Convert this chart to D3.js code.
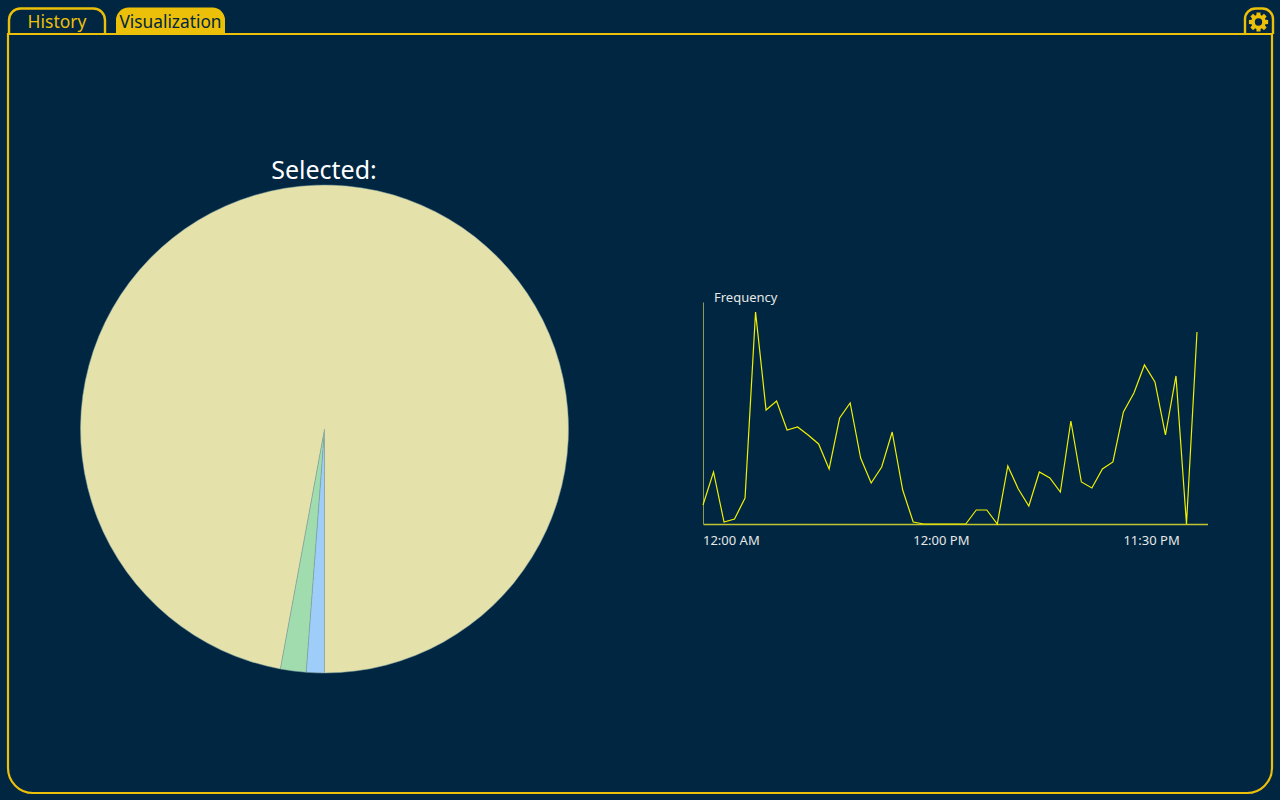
<!DOCTYPE html>
<html>
<head>
<meta charset="utf-8">
<script src="https://cdn.jsdelivr.net/npm/d3@7"></script>
<style>
html, body { margin: 0; padding: 0; background: #002642; overflow: hidden; }
svg { display: block; }
text { font-family: "Noto Sans", sans-serif; }
</style>
</head>
<body>
<svg id="main" width="1280" height="800"></svg>
<script>
var tab_names = ["History", "Visualization"]
var pie_title = "Selected:"
var pie_values = [1.2, 1.7, 97.1]
var pie_colors = ["#9fcdf9", "#a0dcae", "#e5e1ab"]
var freq_label = "Frequency"
var freq_values = [19, 52, 2, 5, 26, 212, 114, 123, 94, 97, 89, 80, 55, 106, 121, 66, 41, 57, 92, 34, 2, 0,
	0, 0, 0, 0, 14, 14, 0, 58, 35, 18, 52, 46, 32, 103, 42, 36, 55, 62, 112, 131, 159, 142, 89, 148, 0, 192]
var tick_index = [0, 20, 40]
var tick_labels = ["12:00 AM", "12:00 PM", "11:30 PM"]

var gold = "#ecc008", bg = "#002642"
var svg = d3.select("#main")

// window frame
svg.append("path")
	.attr("d", "M8,34 H1272 V768 A25,25 0 0 1 1247,793 H33 A25,25 0 0 1 8,768 Z")
	.style("fill", "none").style("stroke", gold).style("stroke-width", 2.2)

// tabs
svg.append("path")
	.attr("d", "M9,34 V20 A11.5,11.5 0 0 1 20.5,8.5 H93.5 A11.5,11.5 0 0 1 105,20 V34")
	.style("fill", "none").style("stroke", gold).style("stroke-width", 2.4)
svg.append("path")
	.attr("d", "M116,34 V20 A12.5,12.5 0 0 1 128.5,7.5 H212.5 A12.5,12.5 0 0 1 225,20 V34 Z")
	.style("fill", gold)
svg.append("text").text(tab_names[0])
	.attr("x", 57).attr("y", 28).attr("text-anchor", "middle")
	.style("font-size", "17.5px").style("fill", gold)
svg.append("text").text(tab_names[1])
	.attr("x", 170.5).attr("y", 28).attr("text-anchor", "middle")
	.style("font-size", "17.3px").style("fill", bg)

// settings tab
svg.append("path")
	.attr("d", "M1245,34 V19 A10.5,10.5 0 0 1 1255.5,8.5 H1262.5 A10.5,10.5 0 0 1 1273,19 V34")
	.style("fill", "none").style("stroke", gold).style("stroke-width", 2.4)
var gear_pts = []
for (var t = 0; t < 8; t++) {
	var a = t * Math.PI / 4
	gear_pts.push([a - 0.2, 9.8], [a + 0.2, 9.8], [a + 0.3, 7.2], [a + Math.PI / 4 - 0.3, 7.2])
}
var gear_d = d3.lineRadial().curve(d3.curveLinearClosed)(gear_pts)
	+ "M3.7,0A3.7,3.7 0 1 0 -3.7,0A3.7,3.7 0 1 0 3.7,0Z"
svg.append("path")
	.attr("transform", "translate(1258.5,22)")
	.attr("d", gear_d)
	.attr("fill-rule", "evenodd")
	.style("fill", gold)

// pie
var pie_g = svg.append("g").attr("transform", "translate(324.5,429)")
var pie = d3.pie().sort(null).startAngle(Math.PI).endAngle(3 * Math.PI)
var arc = d3.arc().innerRadius(0).outerRadius(244)
pie_g.selectAll(".slice")
	.data(pie(pie_values))
	.enter()
	.append("path")
	.attr("class", "slice")
	.attr("d", arc)
	.style("fill", (d, i) => pie_colors[i])
	.style("stroke", "#7fa0a0")
	.style("stroke-width", 0.5)
svg.append("text").text(pie_title)
	.attr("x", 324).attr("y", 179).attr("text-anchor", "middle")
	.style("font-size", "25px").style("fill", "#ffffff")

// frequency line
var x_scale = d3.scaleLinear().domain([0, 48]).range([703, 1207.5])
var y_scale = d3.scaleLinear().domain([0, d3.max(freq_values) * 1.047]).range([524, 302])

var x_axis = d3.axisBottom(x_scale)
	.tickValues(tick_index)
	.tickSize(0)
	.tickPadding(12)
	.tickFormat((d, i) => tick_labels[i])
var x_g = svg.append("g").attr("transform", "translate(0,524)").call(x_axis)
x_g.select(".domain").style("stroke", "#c4c431").style("stroke-width", 1.3)
x_g.selectAll("text")
	.attr("text-anchor", "start")
	.attr("dx", "-0.5")
	.style("font-family", '"Noto Sans", sans-serif')
	.style("font-size", "13px").style("fill", "#e6e8e6")

var y_axis = d3.axisLeft(y_scale).tickValues([]).tickSize(0)
var y_g = svg.append("g").attr("transform", "translate(703,0)").call(y_axis)
y_g.select(".domain").style("stroke", "#8f9a50").style("stroke-width", 1)

svg.append("text").text(freq_label)
	.attr("x", 714).attr("y", 302)
	.style("font-size", "13px").style("fill", "#e6e8e6")

var line = d3.line().x((d, i) => x_scale(i)).y(d => y_scale(d))
svg.append("path")
	.datum(freq_values)
	.attr("d", line)
	.style("fill", "none")
	.style("stroke", "#f0f000")
	.style("stroke-width", 1.2)
</script>
</body>
</html>
